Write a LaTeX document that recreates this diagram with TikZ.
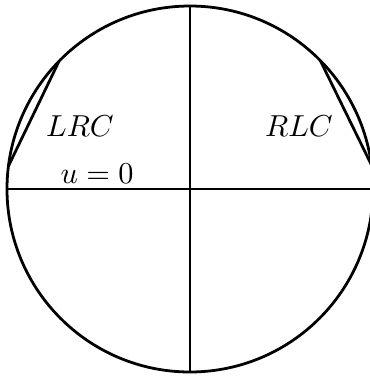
\documentclass[tikz,border=0pt]{standalone}
\usepackage{amsmath}
\usepackage{tikz}
\usetikzlibrary{positioning,calc}
\tikzset{
  rim/.style={draw=black,line width=1pt},
  axis/.style={draw=black,line width=1pt},
  chord/.style={draw=black,line width=1pt},
  tag/.style={inner sep=1pt,font=\fontsize{10.8}{13}\selectfont}
}

\begin{document}
\begin{tikzpicture}[x=0.0127cm,y=0.0127cm]
\useasboundingbox (-190,-189) rectangle (180,189);
\coordinate (o) at (0,0);
\draw[rim] (o) circle (183);
\coordinate (w) at (180:183);\coordinate (e) at (0:183);
\coordinate (n) at (90:183);\coordinate (s) at (270:183);
\draw[axis] (w)--(e);\draw[axis] (n)--(s);
% the two chords near the rim
\coordinate (lt) at (135.7:183);\coordinate (lb) at (172.8:183);
\coordinate (rt) at (44.6:183);\coordinate (rb) at (7.6:183);
\draw[chord] (lt)--(lb);\draw[chord] (rt)--(rb);
\node[tag] (lrc) at (-110,63) {$LRC$};
\node[tag] (u0) at (-93,15) {$u=0$};
\node[tag] (rlc) at (109,63) {$RLC$};
\end{tikzpicture}
\end{document}
